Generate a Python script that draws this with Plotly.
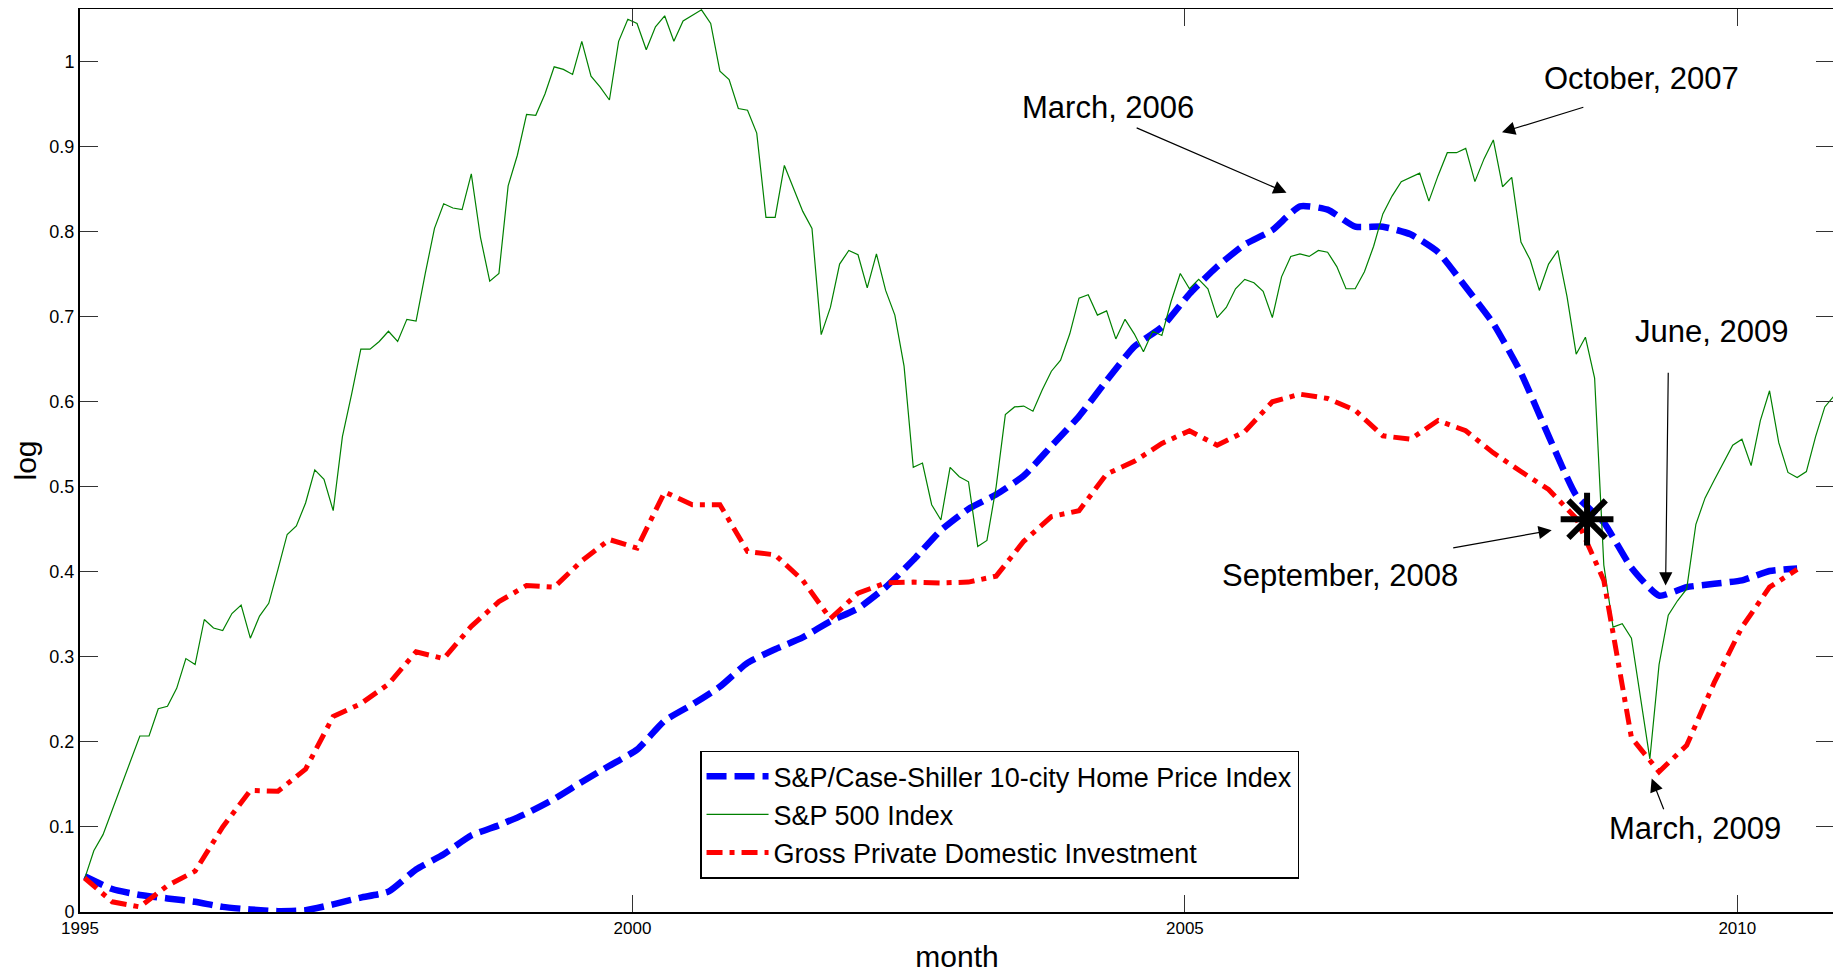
import plotly.graph_objects as go

# ---------------- data (log values) ----------------
# S&P 500 Index, monthly Jan 1995 .. Nov 2010
sp500 = [
    0.039, 0.072, 0.091, 0.120, 0.149, 0.178, 0.207, 0.207, 0.239, 0.242, 0.263, 0.298,  # 1995
    0.291, 0.344, 0.334, 0.331, 0.351, 0.361, 0.322, 0.348, 0.363, 0.403, 0.444, 0.454,  # 1996
    0.481, 0.520, 0.509, 0.472, 0.559, 0.609, 0.662, 0.662, 0.671, 0.683, 0.671, 0.697,  # 1997
    0.695, 0.751, 0.804, 0.833, 0.828, 0.826, 0.868, 0.793, 0.742, 0.751, 0.854, 0.890,  # 1998
    0.938, 0.937, 0.962, 0.994, 0.991, 0.985, 1.024, 0.983, 0.970, 0.955, 1.024, 1.050,  # 1999
    1.045, 1.014, 1.041, 1.054, 1.024, 1.048, 1.054, 1.061, 1.045, 0.989, 0.979, 0.945,  # 2000
    0.943, 0.916, 0.817, 0.817, 0.878, 0.850, 0.824, 0.804, 0.679, 0.711, 0.762, 0.778,  # 2001
    0.773, 0.734, 0.774, 0.731, 0.702, 0.642, 0.523, 0.528, 0.479, 0.461, 0.523, 0.512,  # 2002
    0.506, 0.430, 0.437, 0.500, 0.585, 0.594, 0.595, 0.589, 0.614, 0.636, 0.649, 0.680,  # 2003
    0.722, 0.726, 0.702, 0.707, 0.674, 0.697, 0.680, 0.659, 0.683, 0.678, 0.718, 0.751,  # 2004
    0.733, 0.744, 0.733, 0.699, 0.711, 0.733, 0.744, 0.740, 0.730, 0.699, 0.747, 0.771,  # 2005
    0.774, 0.771, 0.778, 0.776, 0.759, 0.733, 0.733, 0.753, 0.783, 0.821, 0.842, 0.859,  # 2006
    0.864, 0.869, 0.836, 0.866, 0.893, 0.893, 0.898, 0.859, 0.886, 0.908, 0.853, 0.864,  # 2007
    0.788, 0.767, 0.731, 0.762, 0.778, 0.724, 0.656, 0.676, 0.628, 0.408, 0.335, 0.339,  # 2008
    0.322, 0.249, 0.180, 0.291, 0.349, 0.366, 0.380, 0.456, 0.487, 0.508, 0.528, 0.549,  # 2009
    0.556, 0.525, 0.578, 0.613, 0.552, 0.517, 0.511, 0.518, 0.559, 0.594, 0.607,         # 2010
]

# S&P/Case-Shiller 10-city Home Price Index, every third month from Jan 1995
case_shiller = [
    0.042, 0.027, 0.020, 0.016,
    0.012, 0.006, 0.003, 0.001,
    0.002, 0.009, 0.017, 0.024,
    0.050, 0.068, 0.090, 0.102,
    0.116, 0.133, 0.153, 0.172,
    0.191, 0.225, 0.244, 0.265,
    0.293, 0.309, 0.323, 0.342,
    0.357, 0.382, 0.414, 0.449,
    0.474, 0.491, 0.513, 0.548,
    0.583, 0.625, 0.665, 0.688,
    0.727, 0.759, 0.785, 0.802,
    0.830, 0.826, 0.806, 0.806,
    0.797, 0.776, 0.735, 0.692,
    0.634, 0.560, 0.490, 0.458,
    0.405, 0.372, 0.382, 0.386,
    0.390, 0.401, 0.404,
]

# Gross Private Domestic Investment, every third month from Jan 1995
investment = [
    0.040, 0.012, 0.006, 0.031,
    0.048, 0.100, 0.143, 0.142,
    0.168, 0.230, 0.245, 0.268,
    0.306, 0.298, 0.336, 0.365,
    0.384, 0.382, 0.413, 0.438,
    0.428, 0.494, 0.479, 0.479,
    0.424, 0.420, 0.390, 0.345,
    0.375, 0.387, 0.388, 0.387,
    0.388, 0.395, 0.436, 0.465,
    0.472, 0.515, 0.530, 0.551,
    0.566, 0.549, 0.565, 0.600,
    0.609, 0.604, 0.590, 0.560,
    0.556, 0.578, 0.566, 0.540,
    0.518, 0.497, 0.463, 0.390,
    0.205, 0.165, 0.196, 0.270,
    0.335, 0.382, 0.403,
]

star_x = [2008.64]
star_y = [0.462]

x_ticks = [1995, 2000, 2005, 2010]
y_ticks = [0, 0.1, 0.2, 0.3, 0.4, 0.5, 0.6, 0.7, 0.8, 0.9, 1.0]
y_tick_text = ["0", "0.1", "0.2", "0.3", "0.4", "0.5", "0.6", "0.7", "0.8", "0.9", "1"]

# annotation texts and positions (data coordinates)
notes = [
    # text, text_x, text_y, tail_x, tail_y, head_x, head_y
    ("March, 2006", 2004.30, 0.946, 2004.55, 0.923, 2005.92, 0.846),
    ("October, 2007", 2009.13, 0.980, 2008.62, 0.947, 2007.87, 0.917),
    ("June, 2009", 2009.77, 0.683, 2009.375, 0.636, 2009.351, 0.384),
    ("September, 2008", 2006.40, 0.396, 2007.415, 0.428, 2008.32, 0.449),
    ("March, 2009", 2009.62, 0.098, 2009.339, 0.119, 2009.225, 0.157),
]

# ---------------- positions in time ----------------
x_month = [1995 + (m + 0.5) / 12 for m in range(len(sp500))]
x_quarter = [1995 + (3 * q + 0.5) / 12 for q in range(len(case_shiller))]

FONT = "Liberation Sans, Arial, Helvetica, sans-serif"

fig = go.Figure()
fig.add_trace(go.Scatter(
    x=x_quarter, y=case_shiller, mode="lines",
    name="S&P/Case-Shiller 10-city Home Price Index",
    line=dict(color="rgb(0,0,255)", width=6.5, dash="20px,8px", shape="spline", smoothing=0.5),
))
fig.add_trace(go.Scatter(
    x=x_month, y=sp500, mode="lines", name="S&P 500 Index",
    line=dict(color="rgb(0,128,0)", width=1.2),
))
fig.add_trace(go.Scatter(
    x=x_quarter[:len(investment)], y=investment, mode="lines",
    name="Gross Private Domestic Investment",
    line=dict(color="rgb(255,0,0)", width=5, dash="16px,7px,5px,7px"),
))
fig.add_trace(go.Scatter(
    x=star_x, y=star_y, mode="markers", showlegend=False,
    marker=dict(symbol="asterisk-open", size=44, color="black",
                line=dict(color="black", width=6)),
))

annotations = []
for text, tx, ty, ax0, ay0, hx, hy in notes:
    annotations.append(dict(
        x=tx, y=ty, xref="x", yref="y", text=text, showarrow=False,
        font=dict(family=FONT, size=31, color="black"),
        xanchor="center", yanchor="middle",
    ))
    annotations.append(dict(
        x=hx, y=hy, xref="x", yref="y", ax=ax0, ay=ay0, axref="x", ayref="y",
        text="", showarrow=True, arrowhead=2, arrowsize=2.2, arrowwidth=1.2,
        arrowcolor="black", standoff=0, startstandoff=0,
    ))

# the page body adds an 8px margin, so the figure is sized to fit inside it
fig.update_layout(
    width=1833, height=965,
    margin=dict(l=72, r=7, t=1, b=61),
    plot_bgcolor="white", paper_bgcolor="white",
    font=dict(family=FONT, color="black"),
    showlegend=True,
    legend=dict(
        x=0.3535, y=0.1785, xanchor="left", yanchor="top",
        bgcolor="white", bordercolor="black", borderwidth=1.5,
        font=dict(family=FONT, size=27, color="black"),
        itemwidth=62, tracegroupgap=0,
    ),
    annotations=annotations,
)
fig.update_xaxes(
    range=[1995, 2010.875], tickvals=x_ticks, ticktext=[str(v) for v in x_ticks],
    ticks="inside", ticklen=17, tickwidth=1, tickcolor="#333",
    showline=True, linecolor="black", linewidth=2, mirror="ticks",
    showgrid=False, zeroline=False,
    tickfont=dict(family=FONT, size=17, color="black"),
    title=dict(text="month", font=dict(family=FONT, size=30, color="black"), standoff=11),
    automargin=False,
)
fig.update_yaxes(
    range=[0, 1.062], tickvals=y_ticks, ticktext=y_tick_text,
    ticks="inside", ticklen=18, tickwidth=1, tickcolor="#333",
    showline=True, linecolor="black", linewidth=2, mirror="ticks",
    showgrid=False, zeroline=False,
    tickfont=dict(family=FONT, size=18, color="black"),
    title=dict(text="log", font=dict(family=FONT, size=30, color="black"), standoff=4),
    automargin=False,
)

fig.write_html("out.html")
